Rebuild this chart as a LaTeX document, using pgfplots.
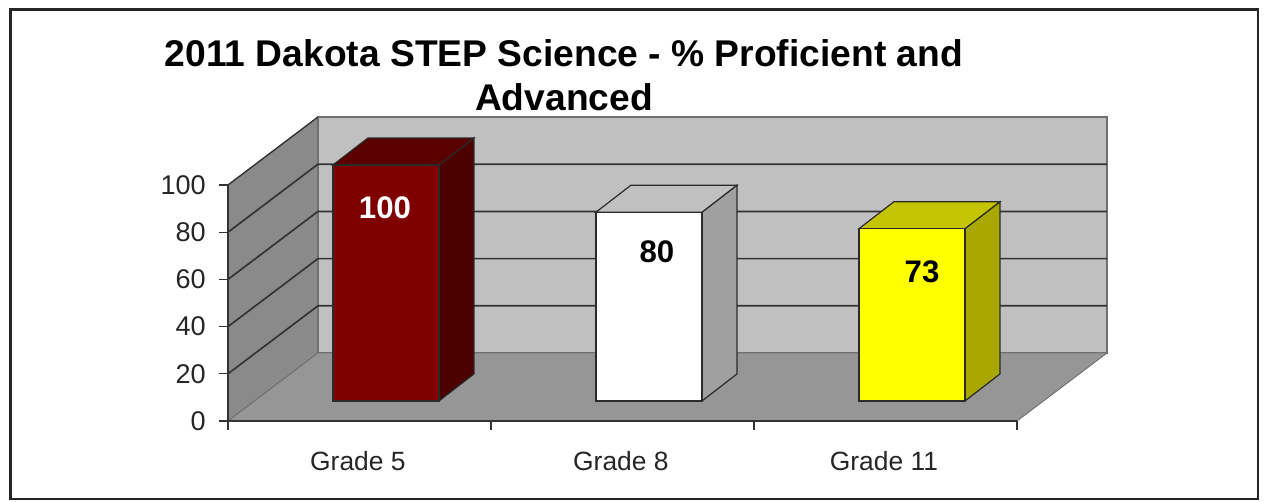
\documentclass[border=0pt]{standalone}
\usepackage{fontspec}
\setmainfont{Liberation Sans}
\usepackage{pgfplots}
\pgfplotsset{compat=1.18}
\definecolor{backwall}{HTML}{C0C0C0}
\definecolor{sidewall}{HTML}{8A8A8A}
\definecolor{floorc}{HTML}{969696}
\definecolor{gridc}{HTML}{333333}
\definecolor{edgec}{HTML}{707070}
\definecolor{barline}{HTML}{2A2A2A}
\definecolor{red1}{HTML}{800000}
\definecolor{red2}{HTML}{5A0000}
\definecolor{red3}{HTML}{4D0000}
\definecolor{wht2}{HTML}{C0C0C0}
\definecolor{wht3}{HTML}{A0A0A0}
\definecolor{yel1}{HTML}{FFFF00}
\definecolor{yel2}{HTML}{C4C400}
\definecolor{yel3}{HTML}{A8A800}
\definecolor{txt}{HTML}{262626}
\begin{document}
\begin{tikzpicture}
\path[use as bounding box] (0,0) rectangle (948.75pt,376.5pt);
\draw[line width=1.8pt,color=black!85] (8pt,2.25pt) rectangle (943.5pt,369.5pt);
\node[font=\bfseries\fontsize{27.9pt}{33pt}\selectfont,align=center,text=black,inner sep=0pt] at (423pt,320pt) {2011 Dakota STEP Science - \% Proficient and\\Advanced};
\begin{axis}[
  at={(171pt,60.75pt)},anchor=south west,
  scale only axis,width=591.75pt,height=177pt,
  xmin=0,xmax=3,ymin=0,ymax=100,
  clip=false,axis on top=true,
  axis y line=left,axis x line=bottom,
  axis line style={-,color=gridc,line width=1.2pt},
  tick align=outside,
  major tick length=6.5pt,
  tick style={color=gridc,line width=0.9pt},
  ytick={0,20,40,60,80,100},
  xtick={0,1,2,3},
  x tick label as interval,
  xticklabels={Grade 5,Grade 8,Grade 11},
  /pgf/number format/assume math mode=true,
  yticklabel style={font=\fontsize{20.3pt}{22pt}\selectfont,text=txt,inner sep=2pt,xshift=-8pt},
  xticklabel style={font=\fontsize{19.8pt}{22pt}\selectfont,text=txt,yshift=-13pt,xshift=-1.2pt},
]
% walls and floor
\addplot[fill=sidewall,draw=edgec,line width=0.7pt] coordinates {(0,0) (0.342,28.8) (0.342,128.8) (0,100)} -- cycle;
\addplot[fill=backwall,draw=edgec,line width=1.1pt] coordinates {(0.342,28.8) (3.342,28.8) (3.342,128.8) (0.342,128.8)} -- cycle;
\addplot[fill=floorc,draw=edgec,line width=0.7pt] coordinates {(0,0) (3,0) (3.342,28.8) (0.342,28.8)} -- cycle;
% gridlines
\addplot[gridc,line width=1.25pt] coordinates {(0,20) (0.342,48.8) (3.342,48.8)};
\addplot[gridc,line width=1.25pt] coordinates {(0,40) (0.342,68.8) (3.342,68.8)};
\addplot[gridc,line width=1.25pt] coordinates {(0,60) (0.342,88.8) (3.342,88.8)};
\addplot[gridc,line width=1.25pt] coordinates {(0,80) (0.342,108.8) (3.342,108.8)};
\addplot[gridc,line width=1pt] coordinates {(0,100) (0.342,128.8)};
% Grade 5 = 100
\addplot[fill=red3,draw=barline,line width=0.9pt] coordinates {(0.802,8.47) (0.935,19.91) (0.935,119.91) (0.802,108.47)} -- cycle;
\addplot[fill=red2,draw=barline,line width=0.9pt] coordinates {(0.399,108.47) (0.802,108.47) (0.935,119.91) (0.532,119.91)} -- cycle;
\addplot[fill=red1,draw=barline,line width=0.9pt] coordinates {(0.399,8.47) (0.802,8.47) (0.802,108.47) (0.399,108.47)} -- cycle;
% Grade 8 = 80
\addplot[fill=wht3,draw=barline,line width=0.9pt] coordinates {(1.802,8.47) (1.935,19.91) (1.935,99.91) (1.802,88.47)} -- cycle;
\addplot[fill=wht2,draw=barline,line width=0.9pt] coordinates {(1.399,88.47) (1.802,88.47) (1.935,99.91) (1.532,99.91)} -- cycle;
\addplot[fill=white,draw=barline,line width=0.9pt] coordinates {(1.399,8.47) (1.802,8.47) (1.802,88.47) (1.399,88.47)} -- cycle;
% Grade 11 = 73
\addplot[fill=yel3,draw=barline,line width=0.9pt] coordinates {(2.802,8.47) (2.935,19.91) (2.935,92.91) (2.802,81.47)} -- cycle;
\addplot[fill=yel2,draw=barline,line width=0.9pt] coordinates {(2.399,81.47) (2.802,81.47) (2.935,92.91) (2.532,92.91)} -- cycle;
\addplot[fill=yel1,draw=barline,line width=0.9pt] coordinates {(2.399,8.47) (2.802,8.47) (2.802,81.47) (2.399,81.47)} -- cycle;
% value labels
\node[font=\bfseries\fontsize{23.4pt}{26pt}\selectfont,text=white] at (axis cs:0.597,90.25) {100};
\node[font=\bfseries\fontsize{23.4pt}{26pt}\selectfont,text=black] at (axis cs:1.631,71.6) {80};
\node[font=\bfseries\fontsize{23.4pt}{26pt}\selectfont,text=black] at (axis cs:2.639,63.1) {73};
\end{axis}
\end{tikzpicture}
\end{document}
